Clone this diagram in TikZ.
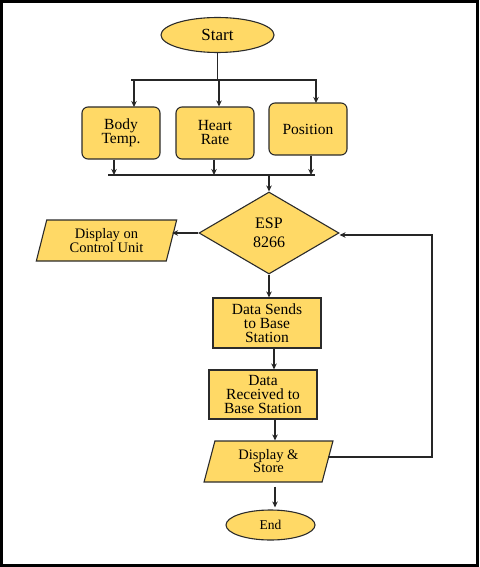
\documentclass[tikz,border=0pt]{standalone}
\usepackage{fontspec}
\setmainfont{Liberation Serif}
\newfontfamily\flowfont{Liberation Serif}
\usetikzlibrary{shapes.geometric, arrows.meta}
\definecolor{flowyellow}{HTML}{FFD966}
\definecolor{flowedge}{HTML}{2B2B2B}

\begin{document}
\begin{tikzpicture}[x=1pt, y=-1pt,
    base/.style={draw=flowedge, fill=flowyellow, line width=1.1pt, align=center, inner sep=1pt, font=\flowfont\fontsize{15.5}{14}\selectfont},
    term/.style={base, ellipse},
    box/.style={base, rectangle},
    rbox/.style={base, rectangle, rounded corners=6pt, minimum width=78, minimum height=52},
    decision/.style={base, diamond, aspect=1.7, inner sep=0pt},
    io/.style={base, trapezium, trapezium left angle=76, trapezium right angle=104, trapezium stretches=true},
    arrow/.style={->, >={Stealth[length=6pt, width=5.5pt]}, line width=1.1pt, black!85},
    line/.style={line width=1.1pt, black!85}
]
    % Frame
    \useasboundingbox (0,0) rectangle (479,567);
    \draw[line width=3pt] (1.5,1.5) rectangle (477.5,565.5);

    % Start and sensors
    \node[term, minimum width=113, minimum height=35, font=\flowfont\fontsize{17}{14}\selectfont] (start) at (217.5,35) {Start};
    \node[rbox] (body) at (121,133) {Body\\Temp.};
    \node[rbox] (heart) at (215,133) {Heart\\Rate};
    \node[rbox] (position) at (308,129) {Position};

    % Controller
    \node[decision, minimum width=140, minimum height=82, font=\flowfont\fontsize{16}{19}\selectfont] (esp) at (269,233) {ESP\\8266};
    \node[io, minimum width=141, minimum height=41, font=\flowfont\fontsize{14.5}{13}\selectfont] (control) at (106.5,240.5) {Display on\\Control Unit};

    % Base station
    \node[box, minimum width=108, minimum height=50] (sends) at (267,323) {Data Sends\\to Base\\Station};
    \node[box, minimum width=108, minimum height=49] (received) at (263,394.5) {Data\\Received to\\Base Station};
    \node[io, minimum width=129, minimum height=41, font=\flowfont\fontsize{14.5}{13}\selectfont] (store) at (268.5,461.5) {Display \&\\Store};
    \node[term, minimum width=89, minimum height=30, font=\flowfont\fontsize{13.5}{13}\selectfont] (end) at (270.5,525) {End};

    % Split to sensors
    \coordinate (splitL) at (131,80);
    \coordinate (splitR) at (317,80);
    \draw[line] (start.south) -- (start.south |- splitL);
    \draw[line] (splitL) -- (splitR);
    \draw[arrow] (134,80) -- (134,107);
    \draw[arrow] (heart.north |- splitL) ++(4,0) -- ([xshift=4pt]heart.north);
    \draw[arrow] (316,80) -- (316,103);

    % Merge to controller
    \coordinate (mergeL) at (108,175);
    \coordinate (mergeR) at (315,175);
    \draw[line] (mergeL) -- (mergeR);
    \draw[arrow] ([xshift=-7pt]body.south) -- ([xshift=-7pt]body.south |- mergeL);
    \draw[arrow] ([xshift=-1pt]heart.south) -- ([xshift=-1pt]heart.south |- mergeL);
    \draw[arrow] ([xshift=3pt]position.south) -- ([xshift=3pt]position.south |- mergeL);
    \draw[arrow] (esp.north |- mergeL) -- (esp.north);

    % Main flow
    \draw[arrow] (esp.west) -- (esp.west -| control.east);
    \draw[arrow] (esp.south) -- (esp.south |- sends.north);
    \draw[arrow] ([xshift=7pt]sends.south) -- ([xshift=7pt]sends.south |- received.north);
    \draw[arrow] ([xshift=12pt]received.south) -- ([xshift=12pt]received.south |- store.north);
    \draw[arrow] ([xshift=6.5pt,yshift=-4pt]store.south) -- ([xshift=6.5pt,yshift=2pt]store.south |- end.north);

    % Loop back
    \coordinate (loop) at (432,0);
    \draw[arrow] ([yshift=4.5pt]store.east) -- ([yshift=4.5pt]store.east -| loop) |- ([yshift=-2pt]esp.east);
\end{tikzpicture}
\end{document}
